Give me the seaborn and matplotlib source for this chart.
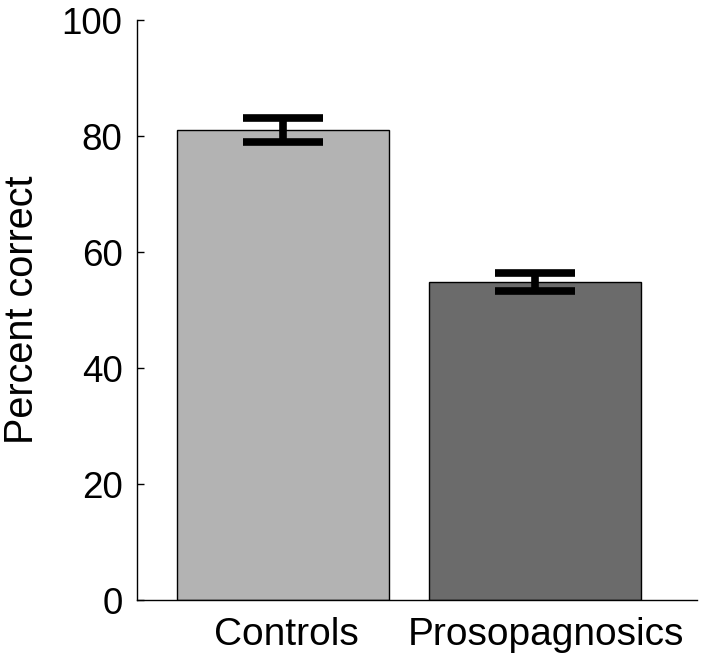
import matplotlib
matplotlib.use("Agg")
from matplotlib import pyplot as plt
from matplotlib.transforms import ScaledTranslation
import seaborn as sns
import pandas as pd

groups = ['Controls', 'Prosopagnosics']
percent_correct = [81.0, 54.8]
sem = [2.1, 1.5]
bar_colors = ['#b3b3b3', '#6b6b6b']

sns.set_style('white')
plt.rcParams['font.family'] = ['Liberation Sans', 'DejaVu Sans']
plt.rcParams['text.color'] = 'black'
plt.rcParams['axes.labelcolor'] = 'black'
plt.rcParams['xtick.color'] = 'black'
plt.rcParams['ytick.color'] = 'black'

df = pd.DataFrame({'group': groups, 'pct': percent_correct})

fig = plt.figure(figsize=(7.01, 6.6), dpi=100)
ax = fig.add_axes([137 / 701, 60 / 660, 560 / 701, 580 / 660])

sns.barplot(data=df, x='group', y='pct', hue='group', palette=bar_colors,
            width=0.84, edgecolor='black', linewidth=1, legend=False, ax=ax)
ax.errorbar(x=[0, 1], y=percent_correct, yerr=sem, fmt='none', ecolor='black',
            elinewidth=5.5, capsize=29, capthick=5.5)

ax.set_xlim(-0.579, 1.643)
ax.set_ylim(0, 100)
ax.set_yticks([0, 20, 40, 60, 80, 100])
ax.set_xlabel('')
ax.set_ylabel('Percent correct', fontsize=28.5, labelpad=15)
ax.tick_params(axis='y', direction='in', length=5, width=1, labelsize=26.5, pad=10.5, left=True)
ax.tick_params(axis='x', length=0, labelsize=28, pad=12)

# labels in the original sit slightly right of the bar centres
for lab, dx in zip(ax.get_xticklabels(), [3, 11]):
    lab.set_transform(lab.get_transform() + ScaledTranslation(dx / 100, 0, fig.dpi_scale_trans))

sns.despine(ax=ax)
for s in ['left', 'bottom']:
    ax.spines[s].set_linewidth(1)
    ax.spines[s].set_color('black')

fig.savefig('out.png', dpi=100)
